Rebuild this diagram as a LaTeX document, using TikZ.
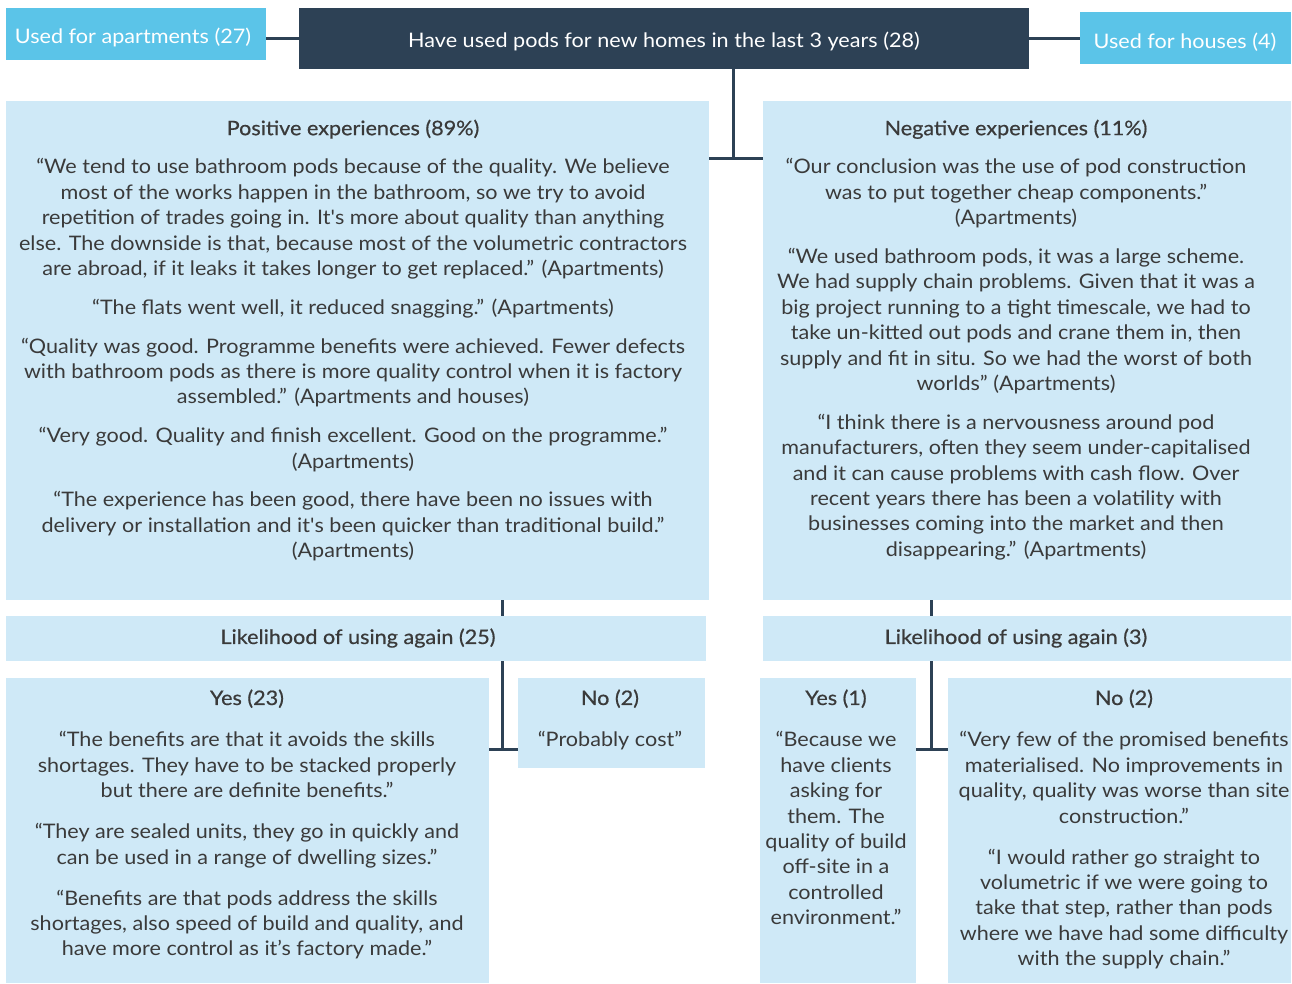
\documentclass[tikz,border=0pt]{standalone}
\usepackage{fontspec}
\setmainfont[FakeStretch=1.08]{Lato}
\newfontfamily\titlefont[FakeStretch=1.08,FakeBold=0.6]{Lato}
\newfontfamily\plainap[FakeStretch=1.08]{Lato}
\definecolor{darkbox}{RGB}{45,65,85}
\definecolor{bluebox}{RGB}{91,196,232}
\definecolor{lightbox}{RGB}{207,233,247}
\definecolor{txt}{RGB}{58,58,58}
\tikzset{
  x=1pt,y=-1pt,
  boxbase/.style={anchor=north west,inner sep=0pt,outer sep=0pt},
  lightb/.style={boxbase,fill=lightbox},
  conn/.style={draw=darkbox,line width=3pt},
  body/.style={align=center,inner sep=0pt,text=txt,font=\fontsize{20}{25.4}\selectfont,anchor=north},
  toptext/.style={inner sep=0pt,text=white,font=\fontsize{20}{24}\selectfont,anchor=base},
  ttl/.style={font=\titlefont\fontsize{20}{25.4}\selectfont},
}
\newcommand{\gap}{\\[13.4pt]}
\newcommand{\lgap}{\\[15.6pt]}
\newcommand{\tgap}{\\[16.6pt]}
\newcommand{\sq}{{\plainap'}}
\begin{document}
\begin{tikzpicture}
\useasboundingbox (0,0) rectangle (1292,983);
% boxes
\node[boxbase,fill=bluebox,minimum width=260pt,minimum height=52pt] (apt) at (6,8) {};
\node[boxbase,fill=darkbox,minimum width=730pt,minimum height=61pt] (ctr) at (299,8) {};
\node[boxbase,fill=bluebox,minimum width=211pt,minimum height=52pt] (hou) at (1080,12) {};
\node[lightb,minimum width=703pt,minimum height=499pt] (pos) at (6,101) {};
\node[lightb,minimum width=528pt,minimum height=499pt] (neg) at (763,101) {};
\node[lightb,minimum width=700pt,minimum height=45pt] (likl) at (6,616) {};
\node[lightb,minimum width=528pt,minimum height=45pt] (likr) at (763,616) {};
\node[lightb,minimum width=483pt,minimum height=305pt] (yesl) at (6,678) {};
\node[lightb,minimum width=187pt,minimum height=90pt] (nol) at (518,678) {};
\node[lightb,minimum width=156pt,minimum height=305pt] (yesr) at (760,678) {};
\node[lightb,minimum width=343pt,minimum height=305pt] (nor) at (948,678) {};
% connectors
\coordinate (jtop) at (733,158);
\coordinate (jl) at (502,749);
\coordinate (jr) at (931,749);
\draw[conn] (apt.east |- 0,38) -- (ctr.west |- 0,38);
\draw[conn] (ctr.east |- 0,38) -- (hou.west |- 0,38);
\draw[conn] (ctr.south -| jtop) -- (jtop);
\draw[conn] (pos.east |- jtop) -- (neg.west |- jtop);
\draw[conn] (pos.south -| jl) -- (likl.north -| jl);
\draw[conn] (likl.south -| jl) -- (jl);
\draw[conn] (yesl.east |- jl) -- (nol.west |- jl);
\draw[conn] (pos.south -| jr) -- (likr.north -| jr);
\draw[conn] (likr.south -| jr) -- (jr);
\draw[conn] (yesr.east |- jr) -- (nor.west |- jr);
% top texts
\node[toptext] (tapt) at (133,43) {Used for apartments (27)};
\node[toptext] (tctr) at (664,47) {Have used pods for new homes in the last 3 years (28)};
\node[toptext] (thou) at (1185,48) {Used for houses (4)};
% positive
\node[body] (tpos) at (353,117.2) {\strut{\titlefont Positive experiences (89\%)}\gap
“We tend to use bathroom pods because of the quality. We believe\\
most of the works happen in the bathroom, so we try to avoid\\
repetition of trades going in. It\sq s more about quality than anything\\
else. The downside is that, because most of the volumetric contractors\\
are abroad, if it leaks it takes longer to get replaced.” (Apartments)\gap
“The flats went well, it reduced snagging.” (Apartments)\gap
“Quality was good. Programme benefits were achieved. Fewer defects\\
with bathroom pods as there is more quality control when it is factory\\
assembled.” (Apartments and houses)\gap
“Very good. Quality and finish excellent. Good on the programme.”\\
(Apartments)\gap
“The experience has been good, there have been no issues with\\
delivery or installation and it\sq s been quicker than traditional build.”\\
(Apartments)};
% negative
\node[body] (tneg) at (1016,117.2) {\strut{\titlefont Negative experiences (11\%)}\gap
“Our conclusion was the use of pod construction\\
was to put together cheap components.”\\
(Apartments)\gap
“We used bathroom pods, it was a large scheme.\\
We had supply chain problems. Given that it was a\\
big project running to a tight timescale, we had to\\
take un-kitted out pods and crane them in, then\\
supply and fit in situ. So we had the worst of both\\
worlds” (Apartments)\gap
“I think there is a nervousness around pod\\
manufacturers, often they seem under-capitalised\\
and it can cause problems with cash flow. Over\\
recent years there has been a volatility with\\
businesses coming into the market and then\\
disappearing.” (Apartments)};
% likelihood
\node[body,ttl] (tlikl) at (358,626) {\strut Likelihood of using again (25)};
\node[body,ttl] (tlikr) at (1016,626) {\strut Likelihood of using again (3)};
% yes left
\node[body] (tyesl) at (247,687) {\strut{\titlefont Yes (23)}\tgap
“The benefits are that it avoids the skills\\
shortages. They have to be stacked properly\\
but there are definite benefits.”\lgap
“They are sealed units, they go in quickly and\\
can be used in a range of dwelling sizes.”\lgap
“Benefits are that pods address the skills\\
shortages, also speed of build and quality, and\\
have more control as it’s factory made.”};
\node[body] (tnol) at (610,687) {\strut{\titlefont No (2)}\tgap
“Probably cost”};
\node[body] (tyesr) at (836,687) {\strut{\titlefont Yes (1)}\tgap
“Because we\\
have clients\\
asking for\\
them. The\\
quality of build\\
off-site in a\\
controlled\\
environment.”};
\node[body] (tnor) at (1124,687) {\strut{\titlefont No (2)}\tgap
“Very few of the promised benefits\\
materialised. No improvements in\\
quality, quality was worse than site\\
construction.”\lgap
“I would rather go straight to\\
volumetric if we were going to\\
take that step, rather than pods\\
where we have had some difficulty\\
with the supply chain.”};
\end{tikzpicture}
\end{document}
